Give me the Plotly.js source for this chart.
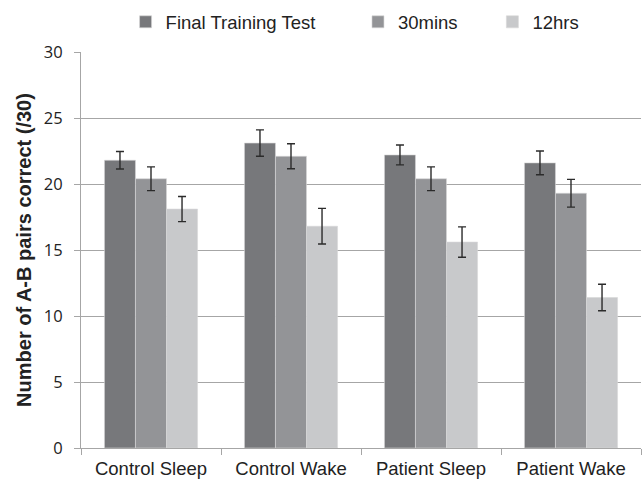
<!DOCTYPE html>
<html>
<head>
<meta charset="utf-8">
<script src="https://cdn.plot.ly/plotly-3.0.1.min.js"></script>
<style>
  html, body { margin: 0; padding: 0; background: #ffffff; }
  #chart { width: 644px; height: 481px; }
</style>
</head>
<body>
<div id="chart"></div>
<script>
// Groups along the x axis
const categories = ['Control Sleep', 'Control Wake', 'Patient Sleep', 'Patient Wake'];

// Mean number of A-B pairs correct (out of 30) and standard errors
const finalTest    = [21.8, 23.1, 22.2, 21.6];
const finalTestErr = [0.66, 1.0, 0.75, 0.9];
const mins30       = [20.4, 22.1, 20.4, 19.3];
const mins30Err    = [0.9, 0.95, 0.9, 1.05];
const hrs12        = [18.1, 16.8, 15.6, 11.4];
const hrs12Err     = [0.95, 1.35, 1.15, 1.0];

const seriesNames = ['Final Training Test', '30mins', '12hrs'];
const yTicks = [0, 5, 10, 15, 20, 25, 30];

const FONT = 'Liberation Sans, Arial, sans-serif';
const TICK_FONT = 'Open Sans, Liberation Sans, sans-serif';
const GRID = '#a6a6a6';

function barTrace(name, values, errs, color, legendId) {
  return {
    type: 'bar',
    name: name,
    x: categories,
    y: values,
    marker: { color: color, line: { color: '#d6d6d8', width: 0.6 } },
    error_y: { type: 'data', array: errs, visible: true, color: '#2b2b2b', thickness: 1.4, width: 4 },
    legend: legendId,
    hoverinfo: 'x+y'
  };
}

const data = [
  barTrace(seriesNames[0], finalTest, finalTestErr, '#77787b', 'legend'),
  barTrace(seriesNames[1], mins30, mins30Err, '#939497', 'legend2'),
  barTrace(seriesNames[2], hrs12, hrs12Err, '#c8c9cb', 'legend3')
];

function legendAt(xPaper) {
  return {
    orientation: 'h',
    x: xPaper, xanchor: 'left',
    y: 1.075, yanchor: 'middle',
    bgcolor: 'rgba(0,0,0,0)',
    borderwidth: 0,
    itemwidth: 30,
    font: { family: FONT, size: 18.5, color: '#222222' }
  };
}

const layout = {
  width: 644,
  height: 481,
  margin: { l: 81, r: 3, t: 50, b: 33 },
  paper_bgcolor: '#ffffff',
  plot_bgcolor: '#ffffff',
  barmode: 'group',
  bargap: 0.335,
  bargroupgap: 0,
  font: { family: FONT, size: 16, color: '#222222' },
  showlegend: true,
  legend: legendAt(0.0796),
  legend2: legendAt(0.4946),
  legend3: legendAt(0.7346),
  xaxis: {
    type: 'category',
    showgrid: false,
    showline: true,
    linecolor: GRID,
    linewidth: 1,
    ticks: 'outside',
    tickson: 'boundaries',
    ticklen: 6,
    tickcolor: GRID,
    ticklabelstandoff: 4,
    tickfont: { family: FONT, size: 18.5, color: '#222222' },
    fixedrange: true
  },
  yaxis: {
    range: [0, 30],
    tickvals: yTicks,
    ticktext: yTicks.map(String),
    showgrid: true,
    gridcolor: GRID,
    gridwidth: 1,
    zeroline: false,
    showline: true,
    linecolor: GRID,
    linewidth: 1,
    ticks: 'outside',
    ticklen: 6,
    tickcolor: GRID,
    ticklabelstandoff: 8,
    tickfont: { family: TICK_FONT, size: 16.5, color: '#222222' },
    title: {
      text: '<b>Number of A-B pairs correct (/30)</b>',
      font: { family: FONT, size: 20, color: '#222222' },
      standoff: 6
    },
    fixedrange: true
  }
};

Plotly.newPlot('chart', data, layout, { displayModeBar: false, staticPlot: true });
</script>
</body>
</html>
